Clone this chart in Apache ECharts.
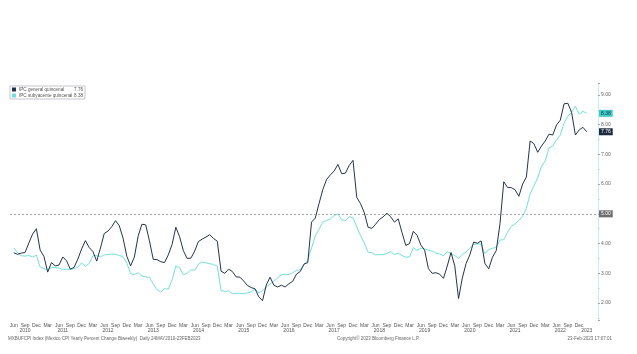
<!DOCTYPE html>
<html>
<head>
<meta charset="utf-8">
<script src="https://cdn.jsdelivr.net/npm/echarts@6/dist/echarts.min.js"></script>
<style>
  html, body { margin: 0; padding: 0; background: #fff; }
  #chart { width: 637px; height: 354px; }
</style>
</head>
<body>
<div id="chart"></div>
<script>
// monthly readings, Jun 2010 .. Feb 2023
const general = [
  3.69, 3.64, 3.68, 3.70, 4.02, 4.32, 4.50,                          // 2010
  3.78, 3.57, 3.04, 3.36, 3.25, 3.28, 3.55, 3.42, 3.14, 3.20, 3.48, 3.82, // 2011
  4.10, 3.87, 3.73, 3.41, 3.85, 4.34, 4.42, 4.57, 4.77, 4.60, 4.18, 3.57, // 2012
  3.25, 3.55, 4.25, 4.65, 4.63, 4.09, 3.47, 3.46, 3.39, 3.36, 3.62, 3.97, // 2013
  4.55, 4.23, 3.76, 3.50, 3.51, 3.75, 4.07, 4.15, 4.22, 4.30, 4.17, 4.08, // 2014
  3.07, 3.00, 3.14, 3.06, 2.88, 2.87, 2.74, 2.59, 2.52, 2.48, 2.21, 2.08, // 2015
  2.61, 2.87, 2.60, 2.54, 2.60, 2.54, 2.65, 2.73, 2.97, 3.06, 3.31, 3.36, // 2016
  4.72, 4.86, 5.35, 5.82, 6.16, 6.31, 6.44, 6.66, 6.35, 6.37, 6.63, 6.80, // 2017
  5.55, 5.34, 5.04, 4.55, 4.51, 4.65, 4.81, 4.90, 5.02, 4.90, 4.72, 4.83, // 2018
  4.37, 3.94, 4.00, 4.41, 4.28, 3.95, 3.78, 3.16, 3.00, 3.02, 2.97, 2.83, // 2019
  3.24, 3.70, 3.25, 2.15, 2.84, 3.33, 3.62, 4.05, 4.01, 4.09, 3.33, 3.15, // 2020
  3.54, 3.76, 4.67, 6.08, 5.89, 5.88, 5.81, 5.59, 6.00, 6.24, 7.45, 7.36, // 2021
  7.07, 7.28, 7.45, 7.68, 7.65, 7.99, 8.15, 8.70, 8.72, 8.41, 7.65, 7.82, // 2022
  7.91, 7.76                                                          // 2023
]
const subyacente = [
  3.85, 3.70, 3.59, 3.58, 3.60, 3.55, 3.61,
  3.21, 3.16, 3.12, 3.20, 3.19, 3.18, 3.13, 3.14, 3.13, 3.16, 3.21, 3.35,
  3.24, 3.33, 3.59, 3.60, 3.55, 3.62, 3.63, 3.65, 3.63, 3.60, 3.55, 3.34,
  2.99, 2.96, 3.02, 2.91, 2.88, 2.86, 2.65, 2.45, 2.37, 2.48, 2.47, 2.78,
  3.25, 3.19, 2.95, 3.00, 3.12, 3.10, 3.31, 3.38, 3.35, 3.32, 3.30, 3.24,
  2.42, 2.39, 2.41, 2.31, 2.33, 2.33, 2.31, 2.34, 2.38, 2.47, 2.34, 2.41,
  2.54, 2.64, 2.74, 2.85, 2.95, 2.97, 2.96, 3.02, 3.10, 3.12, 3.29, 3.44,
  3.85, 4.26, 4.48, 4.72, 4.78, 4.83, 4.94, 5.00, 4.80, 4.77, 4.90, 4.87,
  4.56, 4.27, 4.02, 3.71, 3.69, 3.62, 3.63, 3.63, 3.67, 3.73, 3.63, 3.68,
  3.60, 3.54, 3.55, 3.87, 3.77, 3.85, 3.82, 3.78, 3.75, 3.68, 3.65, 3.59,
  3.73, 3.66, 3.60, 3.50, 3.64, 3.71, 3.85, 3.97, 3.99, 3.98, 3.66, 3.80,
  3.84, 3.87, 4.12, 4.13, 4.37, 4.58, 4.66, 4.78, 4.92, 5.19, 5.67, 5.94,
  6.21, 6.59, 6.78, 7.22, 7.28, 7.49, 7.65, 8.05, 8.28, 8.42, 8.62, 8.35,
  8.45, 8.38
]
const monthNames = ['Jan', 'Feb', 'Mar', 'Apr', 'May', 'Jun', 'Jul', 'Aug', 'Sep', 'Oct', 'Nov', 'Dec']
const monthTicks = [3, 6, 9, 12]
const yearLabels = ['2010-9', '2011-7', '2012-7', '2013-7', '2014-7', '2015-7', '2016-7',
  '2017-7', '2018-7', '2019-7', '2020-7', '2021-7', '2022-7', '2023-2']
const refLevel = 5

// axis runs May 2010 .. May 2023, one category per month
const cats = []
for (let i = 0; i < 157; i++) {
  const m = 4 + i
  cats.push((2010 + Math.floor(m / 12)) + '-' + (m % 12 + 1))
}
const pad = arr => [null, ...arr, null, null, null]
const lastIdx = general.length   // index of Feb 2023 in cats

const DARK = '#25344a'
const CYAN = '#74e0dc'
const FONT = 'Liberation Sans'
const txt = { fontFamily: FONT, fontSize: 5, color: '#555' }

function tag(v, bg, fg) {
  return {
    yAxis: v,
    lineStyle: { color: 'rgba(0,0,0,0)', width: 0 },
    label: { show: true, position: 'end', distance: 1, formatter: v.toFixed(2), backgroundColor: bg, color: fg, fontFamily: FONT, fontSize: 5, padding: [1, 2] }
  }
}

const lastG = general[general.length - 1]
const lastS = subyacente[subyacente.length - 1]

const chart = echarts.init(document.getElementById('chart'), null, { renderer: 'canvas' })
chart.setOption({
  animation: false,
  backgroundColor: '#fff',
  textStyle: { fontFamily: FONT },
  grid: { left: 10, right: 39, top: 83, bottom: 34 },
  legend: {
    orient: 'vertical', left: 10, top: 86,
    itemWidth: 4, itemHeight: 4, itemGap: 1, icon: 'rect',
    padding: [1, 2], borderColor: '#9aa3ad', borderWidth: 0.6, backgroundColor: '#fff',
    data: ['IPC general quincenal', 'IPC subyacente quincenal'],
    formatter: n => '{n|' + n + '}{v|' + (n === 'IPC general quincenal' ? lastG : lastS).toFixed(2) + '}',
    textStyle: {
      ...txt, fontSize: 4.6, padding: [0, 0, 0, -2],
      rich: { n: { ...txt, fontSize: 4.6, width: 55 }, v: { ...txt, fontSize: 4.6, width: 9, align: 'right' } }
    }
  },
  xAxis: [
    {
      type: 'category', data: cats, boundaryGap: false,
      axisLine: { show: false }, axisTick: { show: false }, splitLine: { show: false },
      axisLabel: {
        ...txt, margin: 3,
        interval: (i, v) => i <= lastIdx && monthTicks.includes(+v.split('-')[1]),
        formatter: v => monthNames[+v.split('-')[1] - 1]
      }
    },
    {
      type: 'category', data: cats, boundaryGap: false, position: 'bottom', offset: 5,
      axisLine: { show: false }, axisTick: { show: false }, splitLine: { show: false },
      axisLabel: {
        ...txt, margin: 3,
        interval: (i, v) => yearLabels.includes(v),
        formatter: v => v.split('-')[0]
      }
    }
  ],
  yAxis: {
    type: 'value', position: 'right', min: 1.43, max: 9.4, splitNumber: 8, scale: true,
    axisLine: { show: true, lineStyle: { color: '#c6f0ef', width: 1 } },
    axisTick: { show: true, length: 2, lineStyle: { color: '#9aa' } },
    minorTick: { show: true, splitNumber: 2, length: 1.5, lineStyle: { color: '#bcc' } },
    splitLine: { show: false },
    axisLabel: {
      ...txt, color: '#666', margin: 3,
      formatter: v => Math.abs(v - Math.round(v)) < 1e-6 ? v.toFixed(2) : ''
    }
  },
  series: [
    {
      name: 'IPC subyacente quincenal', type: 'line', data: pad(subyacente),
      symbol: 'none', lineStyle: { color: CYAN, width: 1 }, itemStyle: { color: CYAN }, z: 2,
      markLine: { silent: true, symbol: 'none', data: [tag(lastS, '#3fcdc8', '#1d2a3f')] }
    },
    {
      name: 'IPC general quincenal', type: 'line', data: pad(general),
      symbol: 'none', lineStyle: { color: DARK, width: 1 }, itemStyle: { color: DARK }, z: 3,
      markLine: {
        silent: true, symbol: 'none',
        data: [
          tag(lastG, '#1d2a3f', '#fff'),
          {
            yAxis: refLevel,
            lineStyle: { color: '#aaa', type: [2, 2], width: 1, opacity: 1 },
            label: { show: true, position: 'end', distance: 1, formatter: refLevel.toFixed(2), backgroundColor: '#6e6e6e', color: '#fff', fontFamily: FONT, fontSize: 5, padding: [1, 2] }
          }
        ]
      }
    }
  ],
  graphic: [
    { type: 'text', left: 8, top: 336, style: { text: 'MXBUFCPI Index (Mexico CPI Yearly Percent Change Biweekly)  Daily 24MAY2010-23FEB2023', fill: '#666', font: '4.5px ' + FONT } },
    { type: 'text', left: 337, top: 336, style: { text: 'Copyright© 2023 Bloomberg Finance L.P.', fill: '#666', font: '4.5px ' + FONT } },
    { type: 'text', right: 25, top: 336, style: { text: '23-Feb-2023 17:07:01', fill: '#666', font: '4.5px ' + FONT } }
  ]
})
</script>
</body>
</html>
